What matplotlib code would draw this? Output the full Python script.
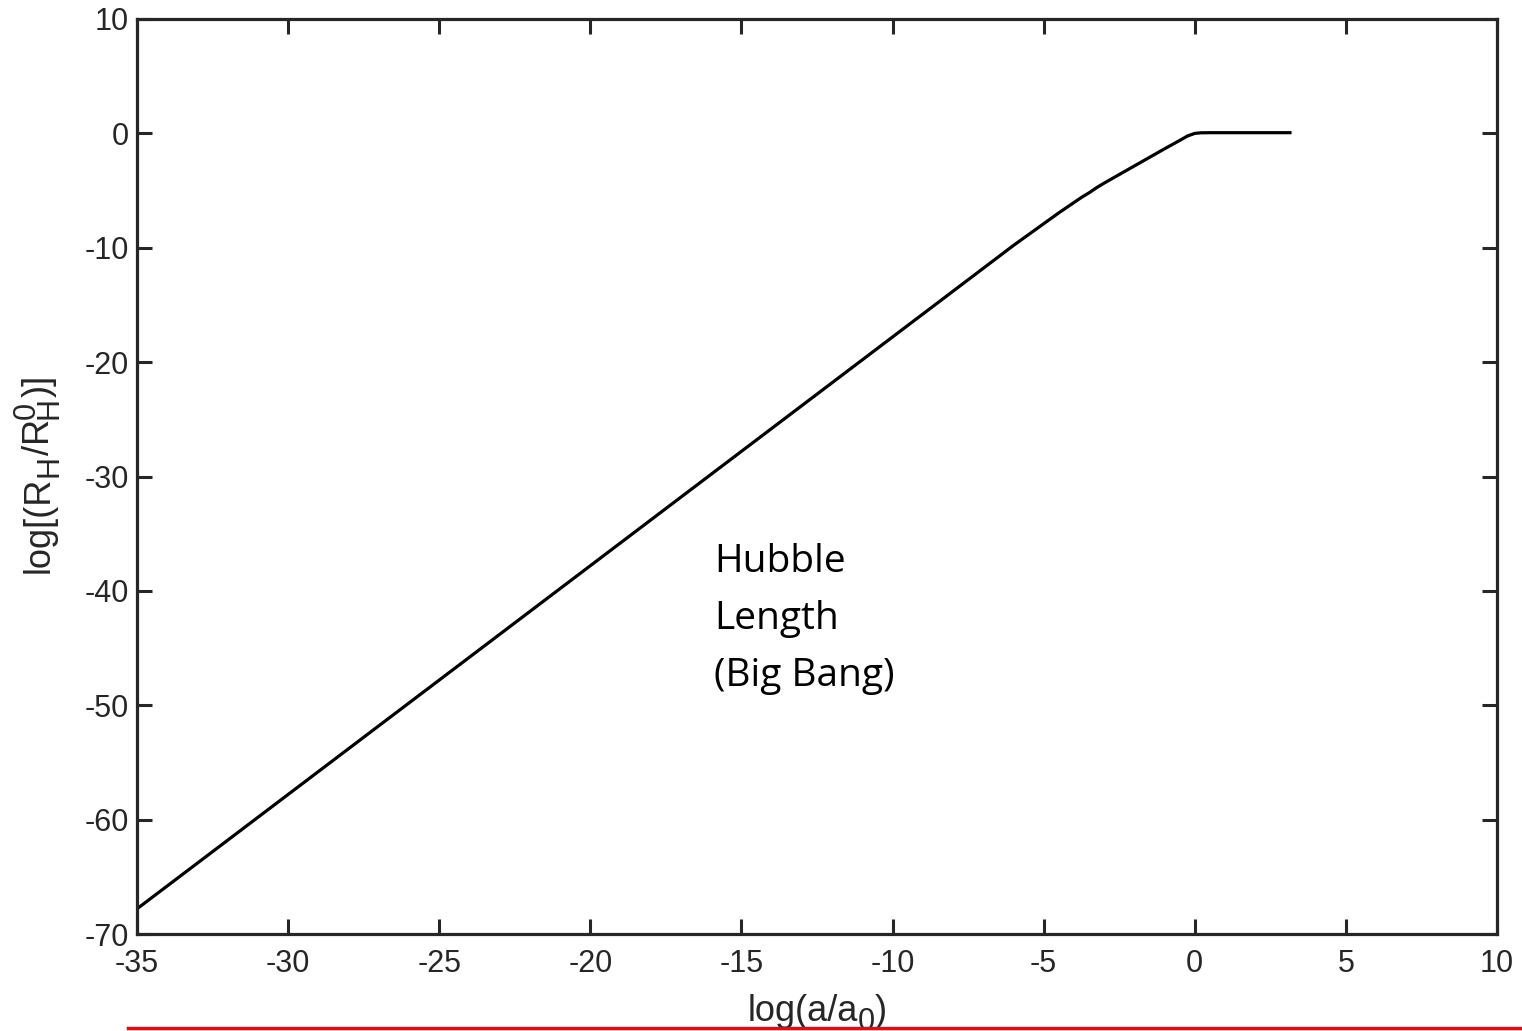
import matplotlib
matplotlib.use("Agg")
import matplotlib.pyplot as plt
from matplotlib.transforms import IdentityTransform
from matplotlib.patches import Rectangle

# log(a/a0) and log(R_H / R_H^0)
log_a = [-35, -20, -10, -6, -5, -4.5, -4, -3.75, -3.5, -3.25, -3, -2, -1, -0.5, -0.25,
         0, 0.2, 0.5, 3.15]
log_rh = [-67.8, -37.8, -17.8, -9.8, -7.9, -6.95, -6.05, -5.6, -5.2, -4.75, -4.35, -2.85,
          -1.35, -0.62, -0.24, 0.0, 0.05, 0.06, 0.06]

xticks = [-35, -30, -25, -20, -15, -10, -5, 0, 5, 10]
yticks = [-70, -60, -50, -40, -30, -20, -10, 0, 10]

W, H = 1522, 1031
plt.rcParams["font.family"] = ["Liberation Sans", "DejaVu Sans"]
plt.rcParams["axes.unicode_minus"] = False
INK = "#262626"

fig = plt.figure(figsize=(W / 100, H / 100), dpi=100)
ax = fig.add_axes([137 / W, 1 - 934 / H, 1360 / W, 915 / H])

ax.plot(log_a, log_rh, color="black", lw=2.3)

ax.set_xlim(-35, 10)
ax.set_ylim(-70, 10)
ax.set_xticks(xticks)
ax.set_yticks(yticks)
ax.tick_params(direction="in", length=11, width=2.2, top=True, right=True,
               labelsize=22, colors=INK)
ax.tick_params(axis="x", pad=11)
ax.tick_params(axis="y", pad=6)
for s in ax.spines.values():
    s.set_linewidth(2.3)
    s.set_color(INK)

ax.text(-15.9, -35.8, "Hubble\nLength\n(Big Bang)", family=["Open Sans", "DejaVu Sans"],
        fontsize=28, va="top", ha="left", linespacing=1.66, color="black")

renderer = fig.canvas.get_renderer()


def rich_label(pieces, center, base, vertical):
    """pieces: list of groups; each group is a list of (text, size, shift_px) sharing one slot."""
    rot = 90 if vertical else 0
    made = []
    for group in pieces:
        arts = []
        for s, size, shift in group:
            t = fig.text(0, 0, s, fontsize=size, color=INK, rotation=rot,
                         rotation_mode="anchor", ha="left", va="baseline",
                         transform=IdentityTransform())
            arts.append((t, shift))
        made.append(arts)
    widths = []
    for arts in made:
        ext = [t.get_window_extent(renderer) for t, _ in arts]
        widths.append(max(e.height if vertical else e.width for e in ext))
    cursor = center - sum(widths) / 2
    for arts, w in zip(made, widths):
        for t, shift in arts:
            if vertical:
                t.set_position((base + shift, cursor))
            else:
                t.set_position((cursor, base - shift))
        cursor += w


# x label: log(a/a_0)
rich_label([[("log(a/a", 26, 0)], [("0", 22, 9)], [(")", 26, 0)]],
           center=817, base=H - 1021, vertical=False)
# y label: log[(R_H/R_H^0)]
rich_label([[("log[(R", 26, 0)], [("H", 22, 9)], [("/R", 26, 0)],
            [("H", 22, 9), ("0", 22, -14)], [(")]", 26, 0)]],
           center=H - 474, base=49, vertical=True)

# red frame edge at the bottom of the image, hiding what lies below it
fig.add_artist(Rectangle((128 / W, 0), 1 - 128 / W, 3 / H, transform=fig.transFigure,
                         facecolor="white", edgecolor="none", zorder=9))
fig.add_artist(plt.Line2D([128 / W, 1.0], [1 - 1028 / H] * 2, color="red", lw=2.5,
                          transform=fig.transFigure, zorder=10))

fig.savefig("out.png", dpi=100, facecolor="white")
